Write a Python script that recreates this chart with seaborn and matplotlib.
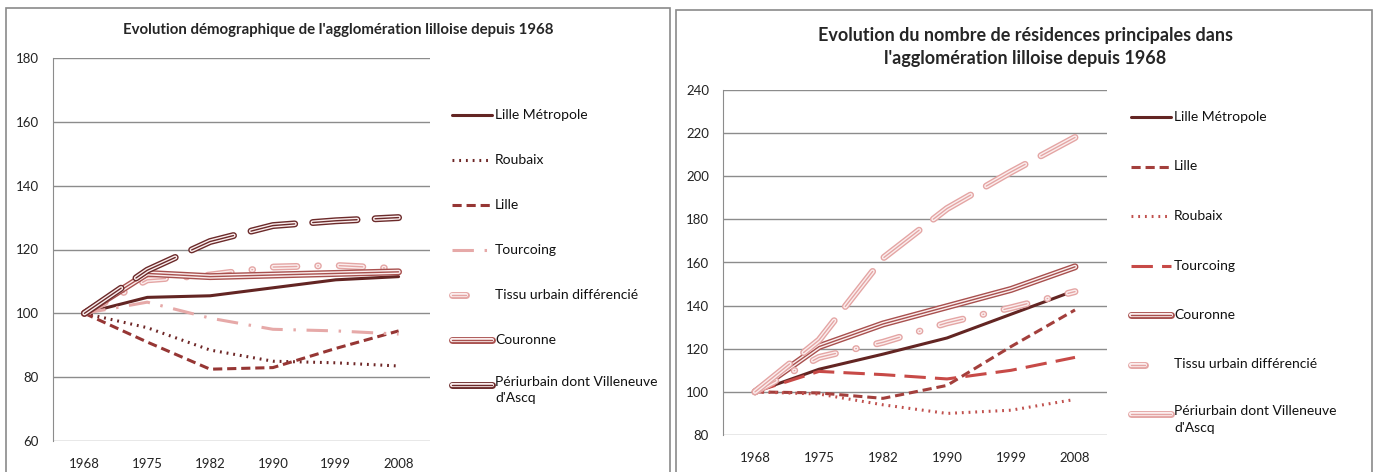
import matplotlib
matplotlib.use("Agg")
import matplotlib.pyplot as plt
import matplotlib.patheffects as pe
from matplotlib.lines import Line2D
from matplotlib.patches import Rectangle
import seaborn as sns

sns.set_style("white")
plt.rcParams['font.family'] = ['Lato', 'DejaVu Sans']

years = ['1968', '1975', '1982', '1990', '1999', '2008']

# population index, base 100 in 1968
pop_series = ['Lille Métropole', 'Roubaix', 'Lille', 'Tourcoing',
              'Tissu urbain différencié', 'Couronne',
              "Périurbain dont Villeneuve\nd'Ascq"]
pop_metropole = [100, 105, 105.5, 108, 110.5, 111.5]
pop_roubaix = [100, 95.5, 88.5, 85, 84.5, 83.5]
pop_lille = [100, 91, 82.5, 83, 89, 94.5]
pop_tourcoing = [100, 103.5, 98.5, 95, 94.5, 93.5]
pop_tissu = [100, 110.5, 112, 114.5, 115, 114]
pop_couronne = [100, 112.5, 111.5, 112, 112.5, 113]
pop_periurbain = [100, 113.5, 122.5, 127.5, 129, 130]

# main residences index, base 100 in 1968
res_series = ['Lille Métropole', 'Lille', 'Roubaix', 'Tourcoing',
              'Couronne', 'Tissu urbain différencié',
              "Périurbain dont Villeneuve\nd'Ascq"]
res_metropole = [100, 110.5, 117.5, 125, 136, 147]
res_lille = [100, 99.5, 97, 103, 121, 138]
res_roubaix = [100, 99, 94, 90, 91.5, 96.5]
res_tourcoing = [100, 109.5, 108, 106, 110, 116]
res_couronne = [100, 121, 131.5, 139.5, 147.5, 158]
res_tissu = [100, 116, 123, 132, 139, 146.5]
res_periurbain = [100, 124, 162, 185, 202, 218]

# simple lines (lw 2.2, dash units scaled by lw)
SOLID = '-'
DOTS = (0, (0.6, 1.6))
DASH = (0, (3, 1.6))
LONGDASH = (0, (7, 3))
LONGDASHDOT = (0, (7, 3.5, 0.8, 3.5))
# double lines (lw 1, dash units in points)
DBL_LONGDASH = (0, (32, 13))
DBL_LONGDASHDOT = (0, (17, 15, 0.5, 15))

pop_styles = [
    ('#632523', SOLID, False),
    ('#6e2626', DOTS, False),
    ('#963634', DASH, False),
    ('#e6a9a8', LONGDASHDOT, False),
    ('#e4a5a4', DBL_LONGDASHDOT, True),
    ('#a8504e', SOLID, True),
    ('#6b2a2a', DBL_LONGDASH, True),
]
res_styles = [
    ('#632523', SOLID, False),
    ('#a33f3c', DASH, False),
    ('#c0504d', DOTS, False),
    ('#c74a47', LONGDASH, False),
    ('#a8504e', SOLID, True),
    ('#e4a5a4', DBL_LONGDASHDOT, True),
    ('#e4a5a4', DBL_LONGDASH, True),
]


def double_effects(color):
    return [pe.Stroke(linewidth=5.0, foreground=color),
            pe.Stroke(linewidth=3.0, foreground='#fbeeee'),
            pe.Normal()]


def style_line(line, color, ls, double):
    line.set_linestyle(ls)
    line.set_solid_capstyle('round')
    if double:
        line.set_linewidth(1.0)
        line.set_dash_capstyle('round')
        line.set_path_effects(double_effects(color))
    else:
        line.set_linewidth(2.2)
        line.set_dash_capstyle('butt')


def draw_panel(ax, values, styles, ylim, step):
    for vals, (color, ls, double) in zip(values, styles):
        sns.lineplot(x=years, y=vals, ax=ax, color=color, sort=False)
        style_line(ax.lines[-1], color, ls, double)
    ax.set_xlim(-0.5, 5.5)
    ax.set_ylim(*ylim)
    ax.set_yticks(range(ylim[0], ylim[1] + 1, step))
    ax.grid(axis='y', color='#8c8c8c', lw=1)
    ax.set_axisbelow(True)
    for s in ['top', 'right', 'bottom']:
        ax.spines[s].set_visible(False)
    ax.spines['left'].set_color('#8c8c8c')
    ax.tick_params(length=0, labelsize=9.5, labelcolor='#222222', pad=10)
    ax.tick_params(axis='x', pad=12)
    ax.set_xlabel('')
    ax.set_ylabel('')


def draw_legend(fig, series, styles, x0, y0, dy):
    W, H = fig.get_size_inches() * fig.dpi
    for i, (name, (color, ls, double)) in enumerate(zip(series, styles)):
        y = 1 - (y0 + i * dy) / H
        h = Line2D([x0 / W, (x0 + 40) / W], [y, y], transform=fig.transFigure,
                   color=color)
        style_line(h, color, ls, double)
        if double and ls == DBL_LONGDASHDOT:
            # short pill handle like the reference
            h.set_xdata([x0 / W, (x0 + 14) / W])
        if double:
            h.set_linestyle('-')
        fig.add_artist(h)
        if '\n' in name:
            fig.text((x0 + 43) / W, y + 9 / H, name, fontsize=10,
                     color='#111111', va='top', linespacing=1.45)
        else:
            fig.text((x0 + 43) / W, y, name, fontsize=10, color='#111111',
                     va='center')


fig = plt.figure(figsize=(13.78, 4.72), dpi=100)
W, H = 1378, 472

fig.add_artist(Rectangle((6 / W, -0.05), 664 / W, 1.05 - 8 / H, transform=fig.transFigure,
                         fill=False, edgecolor='#8a8a8a', lw=1.2))
fig.add_artist(Rectangle((676 / W, -0.05), 696 / W, 1.05 - 10 / H, transform=fig.transFigure,
                         fill=False, edgecolor='#8a8a8a', lw=1.2))

ax1 = fig.add_axes([53 / W, 1 - 441 / H, 377 / W, 383 / H])
draw_panel(ax1,
           [pop_metropole, pop_roubaix, pop_lille, pop_tourcoing,
            pop_tissu, pop_couronne, pop_periurbain],
           pop_styles, (60, 180), 20)
fig.text(338 / W, 1 - 30 / H,
         "Evolution démographique de l'agglomération lilloise depuis 1968",
         ha='center', va='center', fontsize=10.8, fontweight='bold')
draw_legend(fig, pop_series, pop_styles, 452, 115, 45)

ax2 = fig.add_axes([723 / W, 1 - 435 / H, 384 / W, 345 / H])
draw_panel(ax2,
           [res_metropole, res_lille, res_roubaix, res_tourcoing,
            res_couronne, res_tissu, res_periurbain],
           res_styles, (80, 240), 20)
fig.text(1025 / W, 1 - 47 / H,
         "Evolution du nombre de résidences principales dans\nl'agglomération lilloise depuis 1968",
         ha='center', va='center', fontsize=13, fontweight='bold', linespacing=1.45)
draw_legend(fig, res_series, res_styles, 1131, 117, 49.5)

fig.savefig('out.png', dpi=100)
